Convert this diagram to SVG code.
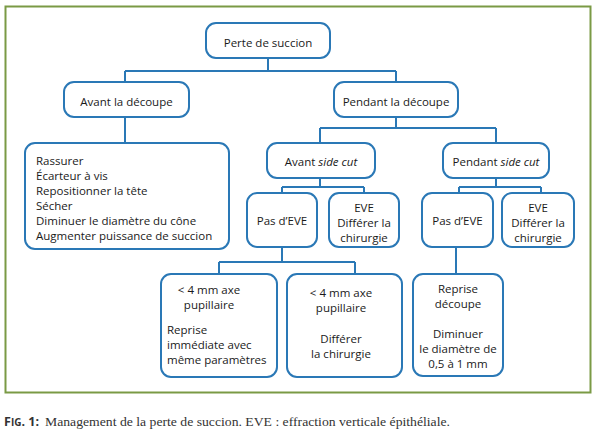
<svg xmlns="http://www.w3.org/2000/svg" width="597" height="439" viewBox="0 0 597 439">
<style>
.box{fill:#fff;stroke:#2a78b6;stroke-width:2}
.ln{fill:none;stroke:#2a78b6;stroke-width:2}
.t{font-family:"Open Sans","Noto Sans",sans-serif;font-size:11.5px;fill:#1a1a1a}
.c{text-anchor:middle}
.cap{font-family:"Liberation Serif",serif;font-size:13px;fill:#333}
.capb{font-family:"Open Sans","Noto Sans",sans-serif;font-size:12.5px;font-weight:bold;fill:#333}
</style>
<rect x="0" y="0" width="597" height="439" fill="#fff"/>
<rect x="5.5" y="6.5" width="585" height="386" fill="none" stroke="#7a9a45" stroke-width="2"/>
<g id="connectors">
<path class="ln" d="M268 58V71M125 71H396M125 71V82M396 71V82"/>
<path class="ln" d="M125 117V143"/>
<path class="ln" d="M396 117V128M320 128H496M320 128V143M496 128V143"/>
<path class="ln" d="M320 178V187M282 187H364M282 187V193M364 187V193"/>
<path class="ln" d="M496 178V187M459 187H541M459 187V193M541 187V193"/>
<path class="ln" d="M282 247V262M219 262H355M219 262V274M355 262V274"/>
<path class="ln" d="M456 247V274"/>
</g>
<g id="root"><rect class="box" x="206" y="23" width="124" height="35" rx="10"/><text class="t c" x="268" y="46.5">Perte de succion</text></g>
<g id="avant"><rect class="box" x="64" y="82" width="125" height="35" rx="10"/><text class="t c" x="126.5" y="105.5">Avant la découpe</text></g>
<g id="pendant"><rect class="box" x="334" y="82" width="124" height="35" rx="10"/><text class="t c" x="396" y="105.5">Pendant la découpe</text></g>
<g id="actions"><rect class="box" x="25" y="143" width="204" height="106" rx="10"/>
<text class="t" x="36" y="165">Rassurer</text>
<text class="t" x="36" y="180">Écarteur à vis</text>
<text class="t" x="36" y="195">Repositionner la tête</text>
<text class="t" x="36" y="210">Sécher</text>
<text class="t" x="36" y="225">Diminuer le diamètre du cône</text>
<text class="t" x="36" y="240">Augmenter puissance de succion</text></g>
<g id="avantside"><rect class="box" x="267" y="143" width="108" height="35" rx="10"/><text class="t c" x="321" y="166">Avant <tspan font-style="italic">side cut</tspan></text></g>
<g id="pendantside"><rect class="box" x="443" y="143" width="106" height="35" rx="10"/><text class="t c" x="496" y="166">Pendant <tspan font-style="italic">side cut</tspan></text></g>
<g id="paseve1"><rect class="box" x="247" y="193" width="70" height="54" rx="10"/><text class="t c" x="282" y="225">Pas d’EVE</text></g>
<g id="eve1"><rect class="box" x="329" y="193" width="70" height="54" rx="10"/><text class="t c" x="364" y="212">EVE</text><text class="t c" x="364" y="227">Différer la</text><text class="t c" x="364" y="242">chirurgie</text></g>
<g id="paseve2"><rect class="box" x="422" y="193" width="71" height="54" rx="10"/><text class="t c" x="457.5" y="225">Pas d’EVE</text></g>
<g id="eve2"><rect class="box" x="502" y="193" width="72" height="54" rx="10"/><text class="t c" x="538" y="212">EVE</text><text class="t c" x="538" y="227">Différer la</text><text class="t c" x="538" y="242">chirurgie</text></g>
<g id="b1"><rect class="box" x="161" y="274" width="116" height="103" rx="10"/>
<text class="t c" x="209" y="294">&lt; 4 mm axe</text><text class="t c" x="209" y="309">pupillaire</text>
<text class="t" x="167" y="334">Reprise</text><text class="t" x="167" y="349">immédiate avec</text><text class="t" x="167" y="364">même paramètres</text></g>
<g id="b2"><rect class="box" x="287" y="274" width="115" height="103" rx="10"/>
<text class="t c" x="341" y="297">&lt; 4 mm axe</text><text class="t c" x="341" y="312">pupillaire</text>
<text class="t c" x="341" y="343">Différer</text><text class="t c" x="341" y="358">la chirurgie</text></g>
<g id="b3"><rect class="box" x="413" y="274" width="90" height="102" rx="10"/>
<text class="t c" x="458" y="293">Reprise</text><text class="t c" x="458" y="308">découpe</text>
<text class="t c" x="458" y="338">Diminuer</text><text class="t c" x="458" y="353">le diamètre de</text><text class="t c" x="458" y="368">0,5 à 1 mm</text></g>
<g id="caption"><text class="capb" x="4" y="426">F<tspan font-size="10px">IG</tspan>. 1:</text><text class="cap" x="45" y="426" textLength="405" lengthAdjust="spacingAndGlyphs">Management de la perte de succion. EVE : effraction verticale épithéliale.</text></g>
</svg>
